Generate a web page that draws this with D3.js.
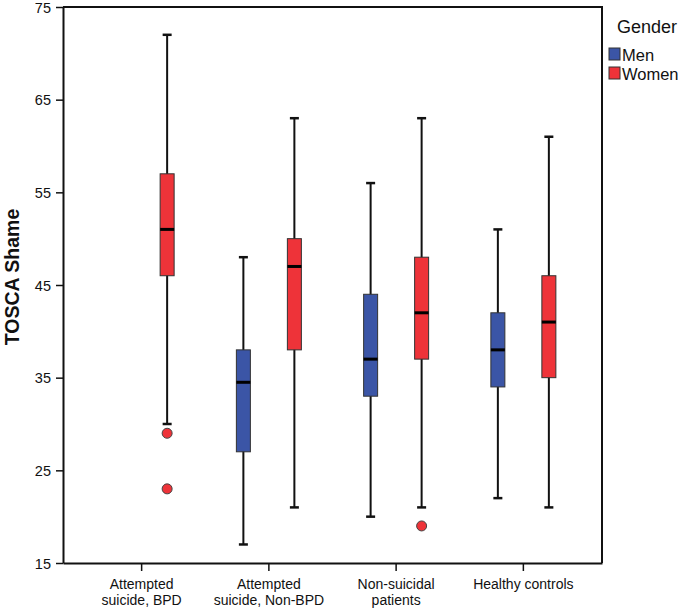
<!DOCTYPE html>
<html>
<head>
<meta charset="utf-8">
<script src="https://cdn.jsdelivr.net/npm/d3@7"></script>
<style>
  body { margin: 0; background: #fff; }
  text { font-family: "Liberation Sans", Arial, sans-serif; }
</style>
</head>
<body>
<svg id="chart"></svg>
<script>
// categories and series
var groups = ["Attempted suicide, BPD", "Attempted suicide, Non-BPD", "Non-suicidal patients", "Healthy controls"];
var groupLines = [["Attempted", "suicide, BPD"], ["Attempted", "suicide, Non-BPD"], ["Non-suicidal", "patients"], ["Healthy controls"]];
var genders = ["Men", "Women"];
var genderColors = ["#3b55a6", "#ee3339"];

// box stats: [group, gender, min, q1, median, q3, max]
var boxStats = [
  ["Attempted suicide, BPD", "Women", 30, 46, 51, 57, 72],
  ["Attempted suicide, Non-BPD", "Men", 17, 27, 34.5, 38, 48],
  ["Attempted suicide, Non-BPD", "Women", 21, 38, 47, 50, 63],
  ["Non-suicidal patients", "Men", 20, 33, 37, 44, 56],
  ["Non-suicidal patients", "Women", 21, 37, 42, 48, 63],
  ["Healthy controls", "Men", 22, 34, 38, 42, 51],
  ["Healthy controls", "Women", 21, 35, 41, 46, 61]
];
// outliers: [group, gender, value]
var outliers = [
  ["Attempted suicide, BPD", "Women", 29],
  ["Attempted suicide, BPD", "Women", 23],
  ["Non-suicidal patients", "Women", 19]
];
var yTicks = [15, 25, 35, 45, 55, 65, 75];

var width = 685, height = 610;
var mLeft = 63, mRight = 602, mTop = 7, mBottom = 563;

var svg = d3.select("#chart").attr("width", width).attr("height", height);

var x = d3.scaleBand()
  .domain(groups)
  .range([mLeft, mRight])
  .paddingInner(0)
  .paddingOuter(0.118);

var xSub = d3.scaleOrdinal()
  .domain(genders)
  .range([-25.5, 25.5]);

var y = d3.scaleLinear()
  .domain([15, 75])
  .range([mBottom, mTop]);

var color = d3.scaleOrdinal().domain(genders).range(genderColors);

// frame (top and right)
svg.append("path")
  .attr("d", "M" + mLeft + "," + mTop + "H" + mRight + "V" + mBottom)
  .attr("fill", "none")
  .attr("stroke", "#111")
  .attr("stroke-width", 2);

// y axis
var gY = svg.append("g").attr("transform", "translate(" + mLeft + ",0)")
  .call(d3.axisLeft(y).tickValues(yTicks).tickSize(7).tickSizeOuter(0).tickFormat(d3.format("d")));
gY.select(".domain").attr("stroke", "#111").attr("stroke-width", 2);
gY.selectAll(".tick line").attr("stroke", "#111").attr("stroke-width", 1.5);
gY.selectAll(".tick text").attr("font-size", 14.5).attr("fill", "#111").attr("x", -12)
  .attr("dy", "0.36em")
  .attr("font-family", "Liberation Sans, Arial, sans-serif");

// x axis
var gX = svg.append("g").attr("transform", "translate(0," + mBottom + ")")
  .call(d3.axisBottom(x).tickSize(8).tickSizeOuter(0).tickFormat(""));
gX.select(".domain").attr("stroke", "#111").attr("stroke-width", 2);
gX.selectAll(".tick line").attr("stroke", "#111").attr("stroke-width", 1.5);

svg.append("g").selectAll("text")
  .data(groups)
  .enter()
  .append("text")
  .attr("x", function(d){ return x(d) + x.bandwidth() / 2; })
  .attr("y", 589)
  .attr("text-anchor", "middle")
  .attr("font-size", 14)
  .attr("fill", "#111")
  .each(function(d, i){
    var t = d3.select(this);
    groupLines[i].forEach(function(line, j){
      t.append("tspan")
        .attr("x", x(d) + x.bandwidth() / 2)
        .attr("dy", j == 0 ? 0 : 16)
        .text(line);
    });
  });

// y label
svg.append("text")
  .attr("transform", "translate(18.5,277) rotate(-90)")
  .attr("text-anchor", "middle")
  .attr("font-size", 19.5)
  .attr("font-weight", "bold")
  .attr("fill", "#111")
  .text("TOSCA Shame");

// boxes
var boxW = 14, capW = 9;
function cx(g, s){ return x(g) + x.bandwidth() / 2 + xSub(s); }

var gBoxes = svg.append("g");
var box = gBoxes.selectAll("g")
  .data(boxStats)
  .enter()
  .append("g");

// whisker
box.append("line")
  .attr("x1", function(d){ return cx(d[0], d[1]); })
  .attr("x2", function(d){ return cx(d[0], d[1]); })
  .attr("y1", function(d){ return y(d[2]); })
  .attr("y2", function(d){ return y(d[6]); })
  .attr("stroke", "#111")
  .attr("stroke-width", 2);

// caps
[2, 6].forEach(function(k){
  box.append("line")
    .attr("x1", function(d){ return cx(d[0], d[1]) - capW / 2; })
    .attr("x2", function(d){ return cx(d[0], d[1]) + capW / 2; })
    .attr("y1", function(d){ return y(d[k]); })
    .attr("y2", function(d){ return y(d[k]); })
    .attr("stroke", "#111")
    .attr("stroke-width", 2.5);
});

box.append("rect")
  .attr("x", function(d){ return cx(d[0], d[1]) - boxW / 2; })
  .attr("y", function(d){ return y(d[5]); })
  .attr("width", boxW)
  .attr("height", function(d){ return y(d[3]) - y(d[5]); })
  .attr("fill", function(d){ return color(d[1]); })
  .attr("stroke", "#333")
  .attr("stroke-width", 1);

box.append("line")
  .attr("x1", function(d){ return cx(d[0], d[1]) - boxW / 2; })
  .attr("x2", function(d){ return cx(d[0], d[1]) + boxW / 2; })
  .attr("y1", function(d){ return y(d[4]); })
  .attr("y2", function(d){ return y(d[4]); })
  .attr("stroke", "#000")
  .attr("stroke-width", 3);

// outliers
gBoxes.selectAll("circle")
  .data(outliers)
  .enter()
  .append("circle")
  .attr("cx", function(d){ return cx(d[0], d[1]); })
  .attr("cy", function(d){ return y(d[2]); })
  .attr("r", 5)
  .attr("fill", function(d){ return color(d[1]); })
  .attr("stroke", "#444")
  .attr("stroke-width", 1);

// legend
var legend = svg.append("g").attr("transform", "translate(609,0)");
legend.append("text")
  .attr("x", 8)
  .attr("y", 33)
  .attr("font-size", 18)
  .attr("fill", "#111")
  .text("Gender");
var li = legend.selectAll("g.item")
  .data(genders)
  .enter()
  .append("g")
  .attr("class", "item")
  .attr("transform", function(d, i){ return "translate(0," + (48 + i * 19) + ")"; });
li.append("rect")
  .attr("width", 11)
  .attr("height", 12)
  .attr("fill", function(d){ return color(d); })
  .attr("stroke", "#333")
  .attr("stroke-width", 1);
li.append("text")
  .attr("x", 13)
  .attr("y", 13)
  .attr("font-size", 16.5)
  .attr("fill", "#111")
  .text(function(d){ return d; });
</script>
</body>
</html>
